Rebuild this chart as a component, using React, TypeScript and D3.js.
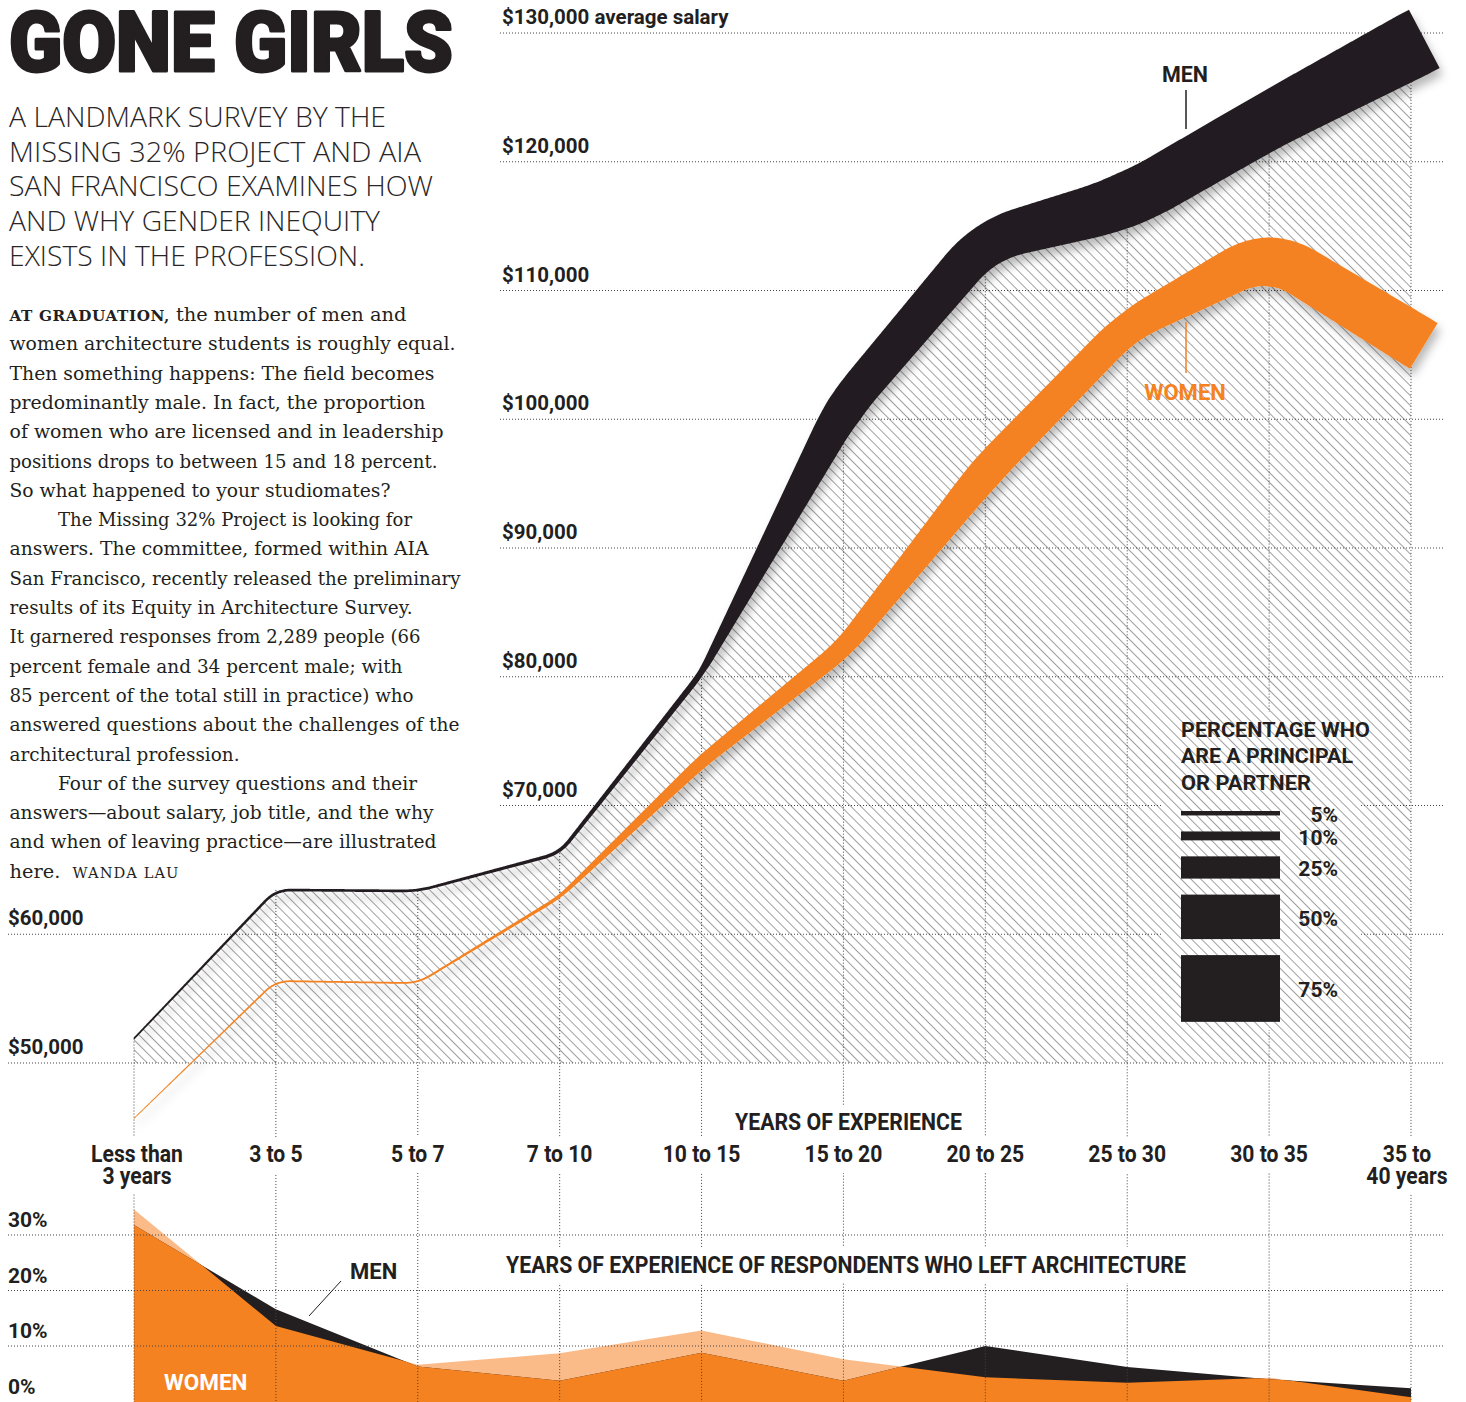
import React from "react";
import * as d3 from "d3";

// ---------- DATA ----------
const categories: string[][] = [
  ["Less than", "3 years"],
  ["3 to 5"],
  ["5 to 7"],
  ["7 to 10"],
  ["10 to 15"],
  ["15 to 20"],
  ["20 to 25"],
  ["25 to 30"],
  ["30 to 35"],
  ["35 to", "40 years"],
];
const menSalary = [51900, 63440, 63360, 66300, 80300, 100900, 113900, 116850, 123200, 129000];
const womenSalary = [45700, 56370, 56200, 62900, 73400, 82200, 95900, 107200, 113000, 106300];
const menPartnerPct = [2, 3, 3, 4, 7, 42, 48, 62, 64, 74];
const womenPartnerPct = [1, 2, 2, 4, 14, 22, 38, 36, 55, 60];
const salaryTicks = [50000, 60000, 70000, 80000, 90000, 100000, 110000, 120000, 130000];
const legendPcts = [5, 10, 25, 50, 75];
const leftWomenPct = [34.6, 13.6, 6.6, 8.7, 12.8, 7.6, 4.35, 3.4, 4.3, 0.75];
const leftMenPct = [31.8, 16.6, 6.3, 3.75, 8.8, 3.75, 10.0, 6.2, 4.0, 2.4];
const leftTicks = [0, 10, 20, 30];

const subtitleLines = [
  "A LANDMARK SURVEY BY THE",
  "MISSING 32% PROJECT AND AIA",
  "SAN FRANCISCO EXAMINES HOW",
  "AND WHY GENDER INEQUITY",
  "EXISTS IN THE PROFESSION.",
];
const subtitleWidths = [377, 412, 424, 371, 356];

const bodyLines = [
  "the number of men and",
  "women architecture students is roughly equal.",
  "Then something happens: The field becomes",
  "predominantly male. In fact, the proportion",
  "of women who are licensed and in leadership",
  "positions drops to between 15 and 18 percent.",
  "So what happened to your studiomates?",
  "The Missing 32% Project is looking for",
  "answers. The committee, formed within AIA",
  "San Francisco, recently released the preliminary",
  "results of its Equity in Architecture Survey.",
  "It garnered responses from 2,289 people (66",
  "percent female and 34 percent male; with",
  "85 percent of the total still in practice) who",
  "answered questions about the challenges of the",
  "architectural profession.",
  "Four of the survey questions and their",
  "answers\u2014about salary, job title, and the why",
  "and when of leaving practice\u2014are illustrated",
  "here.\u00a0\u00a0",
];
const bodyWidths = [397, 446, 425, 416, 434, 428, 381, 354, 419, 451, 403, 411, 393, 404, 450, 230, 359, 424, 427, 170];
const bodyIndented = [7, 16];

// ---------- STYLE ----------
const INK = "#231f20";
const ORANGE = "#f58220";
const PEACH = "#fbbb88";
const GRID = "#444";
const SANS = "Roboto, 'Open Sans', 'DejaVu Sans', sans-serif";
const SERIF = "'DejaVu Serif', 'Liberation Serif', serif";

type P = { x: number; y: number };

const xPos = d3
  .scalePoint<number>()
  .domain(categories.map((_, i) => i))
  .range([134, 1411]);
const yMain = d3.scaleLinear().domain([50000, 130000]).range([1063, 33]);
const yLeft = d3.scaleLinear().domain([0, 30]).range([1401.5, 1235]);
const wScale = d3.scaleLinear().domain([0, 100]).range([0, 89]);

function roundedCenterline(pts: P[], radii: number[], step = 1.5): P[] {
  const n = pts.length;
  const seg = [] as { ux: number; uy: number; L: number }[];
  for (let i = 0; i < n - 1; i++) {
    const dx = pts[i + 1].x - pts[i].x;
    const dy = pts[i + 1].y - pts[i].y;
    const L = Math.hypot(dx, dy);
    seg.push({ ux: dx / L, uy: dy / L, L });
  }
  const r = pts.map((_, i) =>
    i === 0 || i === n - 1 ? 0 : Math.min(radii[i], seg[i - 1].L * 0.45, seg[i].L * 0.45)
  );
  const out: P[] = [{ ...pts[0] }];
  for (let i = 0; i < n - 1; i++) {
    const s = seg[i];
    if (i > 0 && r[i] > 0) {
      const pu = seg[i - 1];
      const A = { x: pts[i].x - r[i] * pu.ux, y: pts[i].y - r[i] * pu.uy };
      const B = { x: pts[i].x + r[i] * s.ux, y: pts[i].y + r[i] * s.uy };
      const m = Math.max(6, Math.ceil((2 * r[i]) / step));
      for (let k = 0; k <= m; k++) {
        const t = k / m;
        const a = (1 - t) * (1 - t), b = 2 * (1 - t) * t, c = t * t;
        out.push({ x: a * A.x + b * pts[i].x + c * B.x, y: a * A.y + b * pts[i].y + c * B.y });
      }
    }
    const sx = pts[i].x + r[i] * s.ux, sy = pts[i].y + r[i] * s.uy;
    const ex = pts[i + 1].x - r[i + 1] * s.ux, ey = pts[i + 1].y - r[i + 1] * s.uy;
    const len = Math.hypot(ex - sx, ey - sy);
    const m = Math.max(1, Math.ceil(len / step));
    for (let k = 1; k <= m; k++) {
      const t = k / m;
      out.push({ x: sx + (ex - sx) * t, y: sy + (ey - sy) * t });
    }
  }
  const dedup: P[] = [];
  out.forEach((p) => {
    const q = dedup[dedup.length - 1];
    if (!q || Math.hypot(p.x - q.x, p.y - q.y) > 0.05) dedup.push(p);
  });
  return dedup;
}

function ribbonPath(center: P[], widthAt: (x: number) => number): string {
  const n = center.length;
  const L: string[] = [];
  const R: string[] = [];
  for (let i = 0; i < n; i++) {
    const prev = center[Math.max(0, i - 1)];
    const next = center[Math.min(n - 1, i + 1)];
    const dx = next.x - prev.x, dy = next.y - prev.y;
    const len = Math.hypot(dx, dy) || 1;
    const nx = -dy / len, ny = dx / len;
    const h = widthAt(center[i].x) / 2;
    const c = center[i];
    L.push(`${(c.x + nx * h).toFixed(2)},${(c.y + ny * h).toFixed(2)}`);
    R.push(`${(c.x - nx * h).toFixed(2)},${(c.y - ny * h).toFixed(2)}`);
  }
  return "M" + L.join("L") + "L" + R.reverse().join("L") + "Z";
}

function buildSeries(salary: number[], pct: number[]) {
  const pts: P[] = salary.map((v, i) => ({ x: xPos(i) as number, y: yMain(v) }));
  const n = pts.length;
  const dx = pts[n - 1].x - pts[n - 2].x, dy = pts[n - 1].y - pts[n - 2].y;
  const l = Math.hypot(dx, dy);
  const EXT = 15;
  const ext = [...pts, { x: pts[n - 1].x + (dx / l) * EXT, y: pts[n - 1].y + (dy / l) * EXT }];
  const widths = pct.map((p) => wScale(p));
  const radii = [...widths.map((w) => 14 + w * 0.55), 0];
  const center = roundedCenterline(ext, radii);
  const widthAt = d3
    .scaleLinear()
    .domain(pts.map((p) => p.x))
    .range(widths)
    .clamp(true);
  return { pts, center, path: ribbonPath(center, (x) => widthAt(x)) };
}

function T(props: any) {
  const { x, y, size, weight = 700, fill = INK, anchor = "start", len, family = SANS, children, ls, stroke, sw } = props;
  return (
    <text
      x={x}
      y={y}
      fontFamily={family}
      fontSize={size}
      fontWeight={weight}
      fill={fill}
      stroke={stroke}
      strokeWidth={sw}
      strokeLinejoin="round"
      textAnchor={anchor}
      letterSpacing={ls}
      textLength={len}
      lengthAdjust={len ? "spacingAndGlyphs" : undefined}
    >
      {children}
    </text>
  );
}

export default function App() {
  const men = buildSeries(menSalary, menPartnerPct);
  const women = buildSeries(womenSalary, womenPartnerPct);
  const xEnd = xPos(categories.length - 1) as number;
  const xStart = xPos(0) as number;

  const hatchPts = men.center.filter((p) => p.x <= xEnd);
  hatchPts.push(men.pts[men.pts.length - 1]);
  const hatchPath =
    "M" +
    hatchPts.map((p) => `${p.x.toFixed(2)},${p.y.toFixed(2)}`).join("L") +
    `L${xEnd},${yMain(50000)}L${xStart},${yMain(50000)}Z`;

  const leftArea = d3
    .area<number>()
    .x((_, i) => xPos(i) as number)
    .y0(1402)
    .y1((d) => yLeft(d));
  const womenLeftPath = leftArea(leftWomenPct) || "";
  const menLeftPath = leftArea(leftMenPct) || "";

  const dots = { stroke: GRID, strokeWidth: 1, strokeDasharray: "1 2", fill: "none" };

  // legend layout
  let ly = 811;
  const legendBars = legendPcts.map((p) => {
    const h = wScale(p);
    const item = { p, y: ly, h };
    ly += h + 16;
    return item;
  });

  const bodyBase = 321;
  const bodyStep = 29.3;

  return (
    <svg
      width={1466}
      height={1402}
      style={{ position: "absolute", left: 0, top: 0, display: "block" }}
    >
      <defs>
        <pattern id="hatch" patternUnits="userSpaceOnUse" width="7" height="7" patternTransform="rotate(45)">
          <rect width="7" height="7" fill="#fff" />
          <line x1="0" y1="3.5" x2="7" y2="3.5" stroke="#a0a0a0" strokeWidth="1" />
        </pattern>
        <filter id="shadow" x="-20%" y="-20%" width="140%" height="140%">
          <feDropShadow dx="3" dy="7" stdDeviation="5" floodColor="#000" floodOpacity="0.28" />
        </filter>
        <clipPath id="menLeftClip">
          <path d={menLeftPath} />
        </clipPath>
      </defs>
      <rect x={0} y={0} width={1466} height={1402} fill="#fff" />

      {/* hatched region under men salary */}
      <path d={hatchPath} fill="url(#hatch)" />

      {/* left-architecture areas */}
      <path d={womenLeftPath} fill={PEACH} />
      <path d={menLeftPath} fill={INK} />
      <path d={womenLeftPath} fill={ORANGE} clipPath="url(#menLeftClip)" />

      {/* horizontal gridlines, main chart */}
      {salaryTicks.map((t) => (
        <line key={t} x1={t <= 60000 ? 8 : 500} x2={1445} y1={yMain(t)} y2={yMain(t)} {...dots} />
      ))}
      {/* horizontal gridlines, bottom chart */}
      {leftTicks
        .filter((t) => t > 0)
        .map((t) => (
          <line key={t} x1={8} x2={1445} y1={yLeft(t)} y2={yLeft(t)} {...dots} />
        ))}
      {/* vertical gridlines */}
      {categories.map((_, i) => (
        <line
          key={i}
          x1={xPos(i) as number}
          x2={xPos(i) as number}
          y1={yMain(menSalary[i])}
          y2={1402}
          {...dots}
        />
      ))}

      {/* gaps for labels */}
      {categories.map((c, i) => (
        <rect key={i} x={(xPos(i) as number) - 6} y={1137} width={12} height={c.length > 1 ? 56 : 36} fill="#fff" />
      ))}
      <rect x={728} y={1106} width={240} height={32} fill="#fff" />
      <rect x={500} y={1247} width={692} height={36} fill="#fff" />

      {/* legend box over hatch */}
      <rect x={1163} y={712} width={197} height={318} fill="url(#hatch)" />

      {/* ribbons */}
      <path d={men.path} fill={INK} filter="url(#shadow)" />
      <path d={women.path} fill={ORANGE} filter="url(#shadow)" />

      {/* title */}
      <T x={9} y={71} size={84} weight={900} len={444} stroke={INK} sw={3}>
        GONE GIRLS
      </T>
      {subtitleLines.map((s, i) => (
        <T
          key={i}
          x={9}
          y={127 + i * 34.7}
          size={27}
          weight={300}
          family="'Open Sans', Roboto, sans-serif"
          len={subtitleWidths[i]}
          fill="#2a2627"
        >
          {s}
        </T>
      ))}

      {/* body text */}
      {bodyLines.map((s, i) => {
        const x = bodyIndented.includes(i) ? 58 : 9.5;
        return (
          <text
            key={i}
            x={x}
            y={bodyBase + i * bodyStep}
            fontFamily={SERIF}
            fontSize={18.5}
            fill={INK}
            textLength={bodyWidths[i]}
            lengthAdjust="spacingAndGlyphs"
          >
            {i === 0 ? (
              <tspan fontWeight={700} fontSize={14.5} letterSpacing={0.6}>
                AT GRADUATION,{" "}
              </tspan>
            ) : null}
            {s}
            {i === bodyLines.length - 1 ? (
              <tspan fontSize={14} letterSpacing={1}>
                WANDA LAU
              </tspan>
            ) : null}
          </text>
        );
      })}

      {/* salary tick labels */}
      {salaryTicks.map((t) => (
        <T key={t} x={t <= 60000 ? 8 : 502} y={yMain(t) - 9} size={20.5}>
          {d3.format("$,")(t)}
          {t === 130000 ? " average salary" : ""}
        </T>
      ))}

      {/* series labels */}
      <T x={1185} y={82} size={21.5} anchor="middle">MEN</T>
      <line x1={1186} x2={1186} y1={90} y2={129} stroke={INK} strokeWidth={1.5} />
      <T x={1185} y={400} size={22} anchor="middle" fill={ORANGE}>WOMEN</T>
      <line x1={1186} x2={1186} y1={322} y2={373} stroke={ORANGE} strokeWidth={1.5} />

      {/* legend */}
      <T x={1181} y={737} size={20.5} len={189}>PERCENTAGE WHO</T>
      <T x={1181} y={763} size={20.5} len={172}>ARE A PRINCIPAL</T>
      <T x={1181} y={790} size={20.5} len={130}>OR PARTNER</T>
      {legendBars.map((b) => (
        <g key={b.p}>
          <rect x={1181} y={b.y} width={99} height={b.h} fill={INK} />
          <T x={1338} y={b.y + b.h / 2 + 9} size={21} anchor="end">
            {b.p}%
          </T>
        </g>
      ))}

      {/* x axis */}
      <T x={735} y={1130} size={23} len={227}>YEARS OF EXPERIENCE</T>
      {categories.map((c, i) => {
        const cx = (xPos(i) as number) + (i === 0 ? 3 : i === categories.length - 1 ? -4 : 0);
        return (
          <text
            key={i}
            x={cx}
            y={1162}
            fontFamily={SANS}
            fontSize={24}
            fontWeight={700}
            fill={INK}
            textAnchor="middle"
            transform={`translate(${cx * 0.12},0) scale(0.88,1)`}
          >
            {c.map((line, k) => (
              <tspan key={k} x={cx} dy={k === 0 ? 0 : 22}>
                {line}
              </tspan>
            ))}
          </text>
        );
      })}

      {/* bottom chart labels */}
      {leftTicks.map((t) => (
        <T key={t} x={8} y={yLeft(t) - 8} size={21}>
          {t}%
        </T>
      ))}
      <T x={506} y={1273} size={23} len={680}>
        YEARS OF EXPERIENCE OF RESPONDENTS WHO LEFT ARCHITECTURE
      </T>
      <T x={350} y={1279} size={22}>MEN</T>
      <line x1={309} y1={1316} x2={341} y2={1281} stroke={INK} strokeWidth={1} />
      <T x={164} y={1390} size={22.5} fill="#fff">WOMEN</T>
    </svg>
  );
}
